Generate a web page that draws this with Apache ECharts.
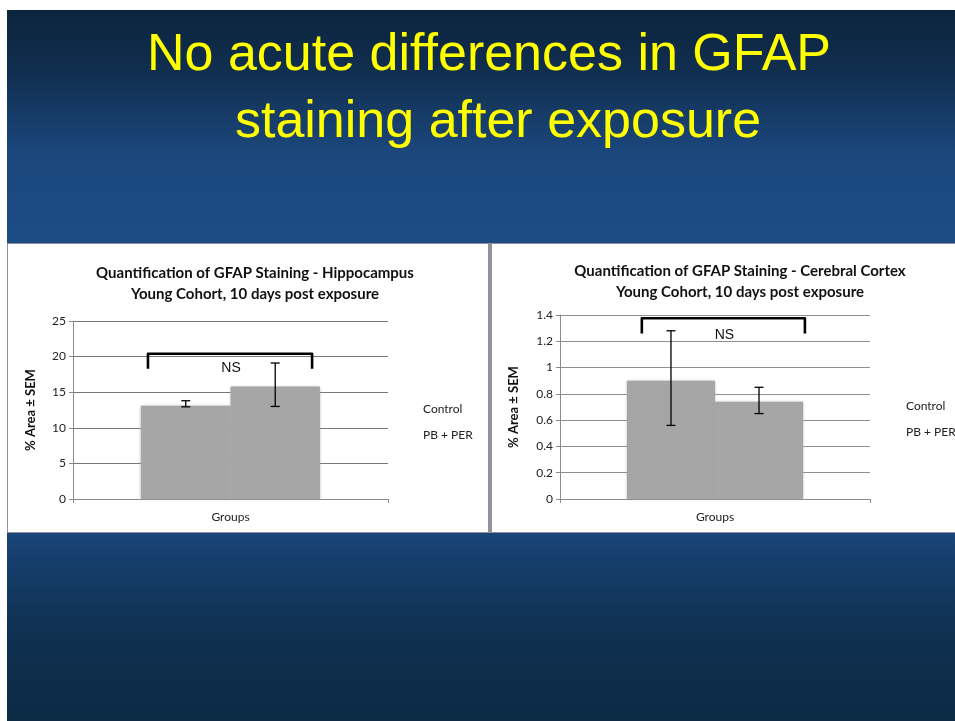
<!DOCTYPE html>
<html>
<head>
<meta charset="utf-8">
<script src="https://cdn.jsdelivr.net/npm/echarts@6/dist/echarts.min.js"></script>
<style>
  html, body { margin: 0; padding: 0; background: #ffffff; }
  #chart { width: 955px; height: 721px; }
</style>
</head>
<body>
<div id="chart"></div>
<script>
// Groups compared in both panels
const groups = ['Control', 'PB + PER'];

// Hippocampus: % area GFAP, bar means and error bar ends
const hippoMean = [13.1, 15.8];
const hippoLow = [12.95, 13.0];
const hippoHigh = [13.8, 19.1];
const hippoBracket = [18.3, 20.4]; // bracket foot, bracket top
const hippoAxis = [0, 25, 5];      // min, max, interval

// Cerebral cortex: % area GFAP, bar means and error bar ends
const cortexMean = [0.9, 0.74];
const cortexLow = [0.56, 0.65];
const cortexHigh = [1.28, 0.85];
const cortexBracket = [1.26, 1.375];
const cortexAxis = [0, 1.4, 0.2];

const slideTitle = ['No acute differences in GFAP', 'staining after exposure'];
const hippoTitle = 'Quantification of GFAP Staining - Hippocampus\nYoung Cohort, 10 days post exposure';
const cortexTitle = 'Quantification of GFAP Staining - Cerebral Cortex\nYoung Cohort, 10 days post exposure';
const yName = '% Area \u00B1 SEM';
const xName = 'Groups';
const bracketText = 'NS';

const BAR_FRAC = 0.284;   // each bar's share of the category band
const chartFont = 'Lato, "Open Sans", sans-serif';

const el = document.getElementById('chart');
const chart = echarts.init(el, null, { renderer: 'canvas' });

function errorSeries(name, lows, highs, xi) {
  return {
    type: 'custom',
    name: name + ' err',
    xAxisIndex: xi, yAxisIndex: xi,
    z: 5,
    silent: true,
    data: lows.map((lo, i) => [0, lo, highs[i], i]),
    renderItem: function (params, api) {
      const band = api.size([1, 0])[0];
      const side = api.value(3) === 0 ? -1 : 1;
      const c = api.coord([0, api.value(1)]);
      const x = c[0] + side * band * BAR_FRAC / 2;
      const yLo = api.coord([0, api.value(1)])[1];
      const yHi = api.coord([0, api.value(2)])[1];
      const cap = 4.5;
      const st = { stroke: '#000', lineWidth: 1.3 };
      return {
        type: 'group',
        children: [
          { type: 'line', shape: { x1: x, y1: yLo, x2: x, y2: yHi }, style: st },
          { type: 'line', shape: { x1: x - cap, y1: yLo, x2: x + cap, y2: yLo }, style: st },
          { type: 'line', shape: { x1: x - cap, y1: yHi, x2: x + cap, y2: yHi }, style: st }
        ]
      };
    }
  };
}

function bracketSeries(levels, span, textDrop, xi) {
  return {
    type: 'custom',
    name: 'bracket',
    xAxisIndex: xi, yAxisIndex: xi,
    z: 6,
    silent: true,
    data: [[0, levels[0], levels[1]]],
    renderItem: function (params, api) {
      const band = api.size([1, 0])[0];
      const cx = api.coord([0, 0])[0];
      const xl = cx + span[0] * band;
      const xr = cx + span[1] * band;
      const yf = api.coord([0, api.value(1)])[1];
      const yt = api.coord([0, api.value(2)])[1];
      return {
        type: 'group',
        children: [
          {
            type: 'polyline',
            shape: { points: [[xl, yf], [xl, yt], [xr, yt], [xr, yf]] },
            style: { stroke: '#000', lineWidth: 2.6, fill: null, lineJoin: 'round', lineCap: 'butt' }
          },
          {
            type: 'text',
            x: (xl + xr) / 2 + 1, y: yt + textDrop,
            style: {
              text: bracketText, align: 'center', verticalAlign: 'middle',
              font: '14px "Liberation Sans", Arial, sans-serif', fill: '#111'
            }
          }
        ]
      };
    }
  };
}

function barSeries(name, values, idx, xi) {
  return {
    type: 'bar',
    name: name,
    xAxisIndex: xi, yAxisIndex: xi,
    data: [values[idx]],
    barWidth: (BAR_FRAC * 100) + '%',
    barGap: '0%',
    itemStyle: { color: '#a6a6a6', shadowColor: 'rgba(150,150,150,0.9)', shadowBlur: 3 },
    emphasis: { disabled: true },
    z: 3
  };
}

function yAxis(gi, range, gap, gridColor) {
  return {
    type: 'value', gridIndex: gi,
    min: range[0], max: range[1], interval: range[2],
    name: yName, nameLocation: 'middle', nameRotate: 90, nameGap: gap,
    nameTextStyle: { fontFamily: chartFont, fontWeight: 'bold', fontSize: 13, color: '#111' },
    axisLine: { show: true, lineStyle: { color: '#8c8c8c', width: 1 } },
    axisTick: { show: true, length: 4, lineStyle: { color: '#8c8c8c' } },
    axisLabel: { fontFamily: chartFont, fontSize: 12, color: '#222', margin: 7 },
    splitLine: { show: true, lineStyle: { color: gridColor, width: 1 } }
  };
}

function xAxis(gi) {
  return {
    type: 'category', gridIndex: gi,
    data: [''],
    name: xName, nameLocation: 'middle', nameGap: 12,
    nameTextStyle: { fontFamily: chartFont, fontSize: 12, color: '#222' },
    axisLine: { show: true, lineStyle: { color: '#8c8c8c', width: 1 } },
    axisTick: { show: true, length: 4, lineStyle: { color: '#8c8c8c' } },
    axisLabel: { show: false },
    splitLine: { show: false }
  };
}

const titleStyle = { fontFamily: chartFont, fontWeight: 'bold', fontSize: 15, color: '#111', lineHeight: 21 };
const legendText = { fontFamily: chartFont, fontSize: 12, color: '#222' };

const option = {
  animation: false,
  graphic: [
    {
      type: 'rect', z: -10, silent: true,
      shape: { x: 7, y: 10, width: 948, height: 711 },
      style: {
        fill: new echarts.graphic.LinearGradient(0, 0, 0, 1, [
          { offset: 0, color: '#0c243d' },
          { offset: 0.09, color: '#112f50' },
          { offset: 0.2, color: '#1b477c' },
          { offset: 0.5, color: '#1f5190' },
          { offset: 0.7, color: '#1d4b85' },
          { offset: 0.8, color: '#143a64' },
          { offset: 0.88, color: '#0f3050' },
          { offset: 1, color: '#0c2a44' }
        ])
      }
    },
    {
      type: 'rect', z: -9, silent: true,
      shape: { x: 7, y: 243, width: 948, height: 290 },
      style: { fill: '#8e939c' }
    },
    {
      type: 'rect', z: -8, silent: true,
      shape: { x: 8, y: 244, width: 480, height: 288 },
      style: { fill: '#ffffff' }
    },
    {
      type: 'rect', z: -8, silent: true,
      shape: { x: 492, y: 244, width: 463, height: 288 },
      style: { fill: '#ffffff' }
    },
    {
      type: 'text', z: 10, silent: true,
      x: 489, y: 56,
      style: {
        text: slideTitle[0], align: 'center', verticalAlign: 'middle',
        font: '52px "Liberation Sans", Arial, sans-serif', fill: '#ffff00',
        shadowColor: 'rgba(0,0,0,0.6)', shadowBlur: 8
      }
    },
    {
      type: 'text', z: 10, silent: true,
      x: 498, y: 123,
      style: {
        text: slideTitle[1], align: 'center', verticalAlign: 'middle',
        font: '52px "Liberation Sans", Arial, sans-serif', fill: '#ffff00',
        shadowColor: 'rgba(0,0,0,0.6)', shadowBlur: 8
      }
    }
  ],
  title: [
    { text: hippoTitle, left: 250, top: 258, textAlign: 'center', textStyle: titleStyle },
    { text: cortexTitle, left: 735, top: 256, textAlign: 'center', textStyle: titleStyle }
  ],
  legend: [
    {
      data: groups, orient: 'vertical', left: 413, top: 398,
      itemWidth: 0, itemHeight: 0, itemGap: 14, selectedMode: false,
      textStyle: legendText
    },
    {
      data: groups, orient: 'vertical', left: 896, top: 395,
      itemWidth: 0, itemHeight: 0, itemGap: 14, selectedMode: false,
      textStyle: legendText
    }
  ],
  grid: [
    { left: 73, right: 955 - 388, top: 321, bottom: 721 - 499, containLabel: false },
    { left: 560, right: 955 - 870, top: 315, bottom: 721 - 499, containLabel: false }
  ],
  xAxis: [xAxis(0), xAxis(1)],
  yAxis: [yAxis(0, hippoAxis, 36, '#777777'), yAxis(1, cortexAxis, 40, '#8f8f8f')],
  series: [
    barSeries(groups[0], hippoMean, 0, 0),
    barSeries(groups[1], hippoMean, 1, 0),
    errorSeries('hippo', hippoLow, hippoHigh, 0),
    bracketSeries(hippoBracket, [-0.262, 0.259], 14, 0),
    barSeries(groups[0], cortexMean, 0, 1),
    barSeries(groups[1], cortexMean, 1, 1),
    errorSeries('cortex', cortexLow, cortexHigh, 1),
    bracketSeries(cortexBracket, [-0.236, 0.29], 17, 1)
  ]
};

chart.setOption(option);
</script>
</body>
</html>
